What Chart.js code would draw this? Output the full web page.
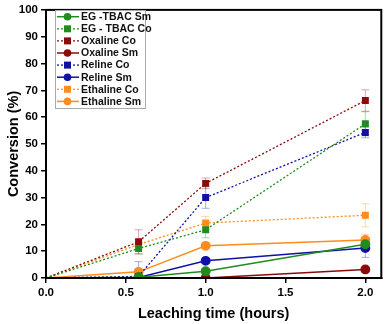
<!DOCTYPE html>
<html>
<head>
<meta charset="utf-8">
<script src="https://cdn.jsdelivr.net/npm/chart.js@4.4.1/dist/chart.umd.min.js"></script>
<style>
  html, body { margin: 0; padding: 0; background: #fff; }
  #wrap { width: 387px; height: 324px; }
</style>
</head>
<body>
<div id="wrap"><canvas id="conversion-chart" width="387" height="324"></canvas></div>
<script>
// leaching time points (hours)
var times = [0, 0.58, 1, 2];

// conversion (%) per series
var egTbacSm   = [0, 0.3, 2.5, 12.6];
var egTbacCo   = [0, 11, 18, 57.5];
var oxalineCo  = [0, 13.5, 35.3, 66.2];
var oxalineSm  = [0, 0, 0, 3.2];
var relineCo   = [0, 0.6, 30, 54.3];
var relineSm   = [0, 0.2, 6.4, 11.2];
var ethalineCo = [0, 12.5, 20.5, 23.4];
var ethalineSm = [0, 2.3, 12, 14.2];

// error bar half-widths
var egTbacSmErr   = [0, 0.5, 0.8, 2.5];
var egTbacCoErr   = [0, 2, 3, 4.5];
var oxalineCoErr  = [0, 4.5, 2, 4];
var oxalineSmErr  = [0, 0, 0, 0.8];
var relineCoErr   = [0, 5.5, 4, 2];
var relineSmErr   = [0, 0.5, 1, 3.5];
var ethalineCoErr = [0, 2, 2.5, 4.3];
var ethalineSmErr = [0, 1, 1.2, 2];

var GREEN = "#1e8c1e", MAROON = "#8b0a0a", BLUE = "#1010a8", ORANGE = "#ff8c1c";

function pts(vals) {
  return times.map(function(t, i) { return {x: t, y: vals[i]}; });
}

function series(label, vals, errs, color, dotted) {
  var r = dotted ? 4 : 4.2;
  return {
    label: label,
    data: pts(vals),
    errors: errs,
    borderColor: color,
    backgroundColor: color,
    pointBackgroundColor: color,
    pointBorderColor: color,
    pointStyle: dotted ? "rect" : "circle",
    // no marker at the origin
    pointRadius: times.map(function(t) { return t === 0 ? 0 : r; }),
    borderWidth: dotted ? 1.3 : 1.5,
    borderDash: dotted ? [2, 2] : [],
    showLine: true,
    tension: 0,
    dotted: dotted
  };
}

var datasets = [
  series("EG -TBAC Sm", egTbacSm, egTbacSmErr, GREEN, false),
  series("EG - TBAC Co", egTbacCo, egTbacCoErr, GREEN, true),
  series("Oxaline Co", oxalineCo, oxalineCoErr, MAROON, true),
  series("Oxaline Sm", oxalineSm, oxalineSmErr, MAROON, false),
  series("Reline Co", relineCo, relineCoErr, BLUE, true),
  series("Reline Sm", relineSm, relineSmErr, BLUE, false),
  series("Ethaline Co", ethalineCo, ethalineCoErr, ORANGE, true),
  series("Ethaline Sm", ethalineSm, ethalineSmErr, ORANGE, false)
];

function fade(hex, a) {
  var r = parseInt(hex.substr(1, 2), 16), g = parseInt(hex.substr(3, 2), 16), b = parseInt(hex.substr(5, 2), 16);
  return "rgba(" + r + "," + g + "," + b + "," + a + ")";
}

// faded error bars, drawn under the lines
var errorBars = {
  id: "errorBars",
  beforeDatasetsDraw: function(chart) {
    var ctx = chart.ctx, ys = chart.scales.y;
    chart.data.datasets.forEach(function(ds, di) {
      var meta = chart.getDatasetMeta(di);
      meta.data.forEach(function(p, i) {
        var e = ds.errors[i];
        if (!e) return;
        var v = ds.data[i].y;
        var top = ys.getPixelForValue(v + e), bot = ys.getPixelForValue(Math.max(v - e, 0));
        ctx.save();
        ctx.strokeStyle = fade(ds.borderColor, 0.35);
        ctx.lineWidth = 1;
        ctx.beginPath();
        ctx.moveTo(p.x, top); ctx.lineTo(p.x, bot);
        ctx.moveTo(p.x - 4, top); ctx.lineTo(p.x + 4, top);
        ctx.moveTo(p.x - 4, bot); ctx.lineTo(p.x + 4, bot);
        ctx.stroke();
        ctx.restore();
      });
    });
  }
};

// frame + boxed legend inside the plot
var frameLegend = {
  id: "frameLegend",
  afterDraw: function(chart) {
    var ctx = chart.ctx, a = chart.chartArea;
    ctx.save();
    ctx.strokeStyle = "#000";
    ctx.lineWidth = 2;
    ctx.strokeRect(a.left, a.top, a.right - a.left, a.bottom - a.top);

    var bx = 55, by = 10, bw = 90, bh = 98, rowH = 12.1, y0 = 16.7;
    ctx.fillStyle = "#fff";
    ctx.fillRect(bx, by, bw, bh);
    ctx.strokeStyle = "#aaa";
    ctx.lineWidth = 1;
    ctx.strokeRect(bx + 0.5, by + 0.5, bw, bh);

    ctx.font = "bold 10.5px 'Liberation Sans', Arial, sans-serif";
    ctx.textBaseline = "middle";
    chart.data.datasets.forEach(function(ds, i) {
      var y = y0 + i * rowH;
      ctx.strokeStyle = ds.borderColor;
      ctx.lineWidth = ds.borderWidth;
      ctx.setLineDash(ds.borderDash);
      ctx.beginPath();
      ctx.moveTo(57, y); ctx.lineTo(79, y);
      ctx.stroke();
      ctx.setLineDash([]);
      ctx.fillStyle = ds.borderColor;
      if (ds.dotted) {
        ctx.fillRect(64, y - 3.5, 7, 7);
      } else {
        ctx.beginPath(); ctx.arc(67.5, y, 3.8, 0, Math.PI * 2); ctx.fill();
      }
      ctx.fillStyle = "#111";
      ctx.fillText(ds.label, 81, y + 0.5);
    });
    ctx.restore();
  }
};

var tickFont = { family: "'Liberation Sans', Arial, sans-serif", size: 11.5, weight: "bold" };
var titleFont = { family: "'Liberation Sans', Arial, sans-serif", size: 14.5, weight: "bold" };

new Chart(document.getElementById("conversion-chart"), {
  type: "scatter",
  data: { datasets: datasets },
  options: {
    responsive: false,
    animation: false,
    layout: { padding: { top: 7, right: 3, left: 0, bottom: 0 } },
    plugins: { legend: { display: false }, tooltip: { enabled: false } },
    scales: {
      x: {
        type: "linear",
        min: 0, max: 2.1,
        afterFit: function(s) { s.height = 46; },
        ticks: {
          stepSize: 0.5, includeBounds: false, color: "#000", font: tickFont, padding: 3,
          callback: function(v) { return v.toFixed(1); }
        },
        grid: { drawOnChartArea: false, drawTicks: true, tickLength: 5, color: "#000", lineWidth: 1.5 },
        border: { display: true, color: "#000", width: 2 },
        title: { display: true, text: "Leaching time (hours)", color: "#000", font: titleFont, padding: { top: 6, bottom: 1 } }
      },
      y: {
        min: 0, max: 100,
        afterFit: function(s) { s.width = 46; },
        ticks: { stepSize: 10, color: "#000", font: tickFont, padding: 3 },
        grid: { drawOnChartArea: false, drawTicks: true, tickLength: 5, color: "#000", lineWidth: 1.5 },
        border: { display: true, color: "#000", width: 2 },
        title: { display: true, text: "Conversion (%)", color: "#000", font: titleFont, padding: { top: 5, bottom: 2 } }
      }
    }
  },
  plugins: [errorBars, frameLegend]
});
</script>
</body>
</html>
